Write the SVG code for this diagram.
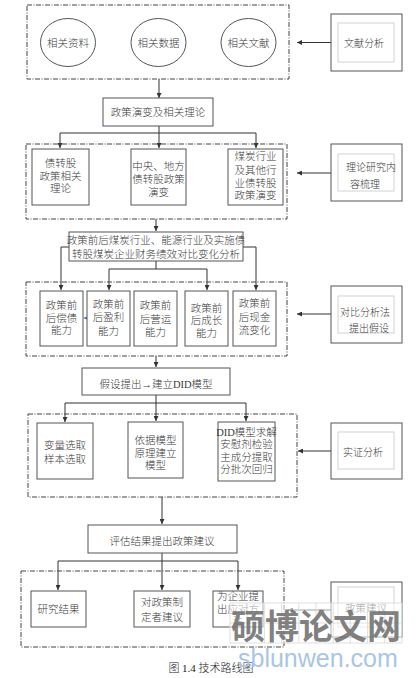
<svg xmlns="http://www.w3.org/2000/svg" width="419" height="678" viewBox="0 0 419 678">
<defs>
<marker id="ah" markerWidth="5" markerHeight="5" refX="5" refY="2.5" orient="auto" markerUnits="userSpaceOnUse"><path d="M0,0 L5,2.5 L0,5 z" fill="#333"/></marker>
<marker id="ahb" markerWidth="4" markerHeight="4" refX="4" refY="2" orient="auto" markerUnits="userSpaceOnUse"><path d="M0,0 L4,2 L0,4 z" fill="#4a6fb5"/></marker>
<style>
.box{fill:#fff;stroke:#555;stroke-width:1}
.grp{fill:none;stroke:#444;stroke-width:1;stroke-dasharray:5 1.5 1 1.5}
.ln{fill:none;stroke:#333;stroke-width:1}
.arr{marker-end:url(#ah)}
.inner{fill:none;stroke:#d2d2d2;stroke-width:1}
.t{font-family:"Liberation Serif","Noto Sans CJK SC",serif;font-size:10.5px;font-weight:300;fill:#3a3a3a;text-anchor:middle}
.ts{font-family:"Liberation Serif","Noto Sans CJK SC",serif;font-size:10px;font-weight:300;fill:#3a3a3a}
</style>
</defs>
<rect width="419" height="678" fill="#fff"/>

<g id="connectors">
<path class="ln arr" d="M331,42.5 H297"/>
<path class="ln arr" d="M159,79 V98"/>
<path class="ln arr" d="M159,126 V148"/>
<path class="ln arr" d="M159,133 H60 V148"/>
<path class="ln arr" d="M159,133 H256 V148"/>
<path class="ln arr" d="M331,173 H297"/>
<path class="ln arr" d="M156,219 V231"/>
<path class="ln arr" d="M69,247 H61 V290"/>
<path class="ln arr" d="M243,247 H256 V290"/>
<path class="ln arr" d="M156,261 V269 H109 V290"/>
<path class="ln arr" d="M156,269 H207 V290"/>
<path d="M87,318 H84" stroke="#4a6fb5" stroke-width="1" marker-end="url(#ahb)"/>
<path class="ln arr" d="M331,314 H297"/>
<path class="ln arr" d="M156,356 V367"/>
<path class="ln arr" d="M156,395 V421"/>
<path class="ln arr" d="M156,403 H65 V422"/>
<path class="ln arr" d="M156,403 H246 V421"/>
<path class="ln arr" d="M331,451 H298"/>
<path class="ln arr" d="M162,497 V524"/>
<path class="ln arr" d="M162,553 V590"/>
<path class="ln arr" d="M162,561 H58 V590"/>
<path class="ln arr" d="M162,561 H238 V590"/>
<path class="ln arr" d="M331,610 H288"/>
</g>

<g id="group1">
<rect class="grp" x="27" y="5" width="262" height="74"/>
<g id="n_ziliao"><ellipse cx="68" cy="42.5" rx="27.5" ry="24" fill="#fff" stroke="#555"/><text class="t" x="68" y="46.5" font-size="10">相关资料</text></g>
<g id="n_shuju"><ellipse cx="158.5" cy="42.5" rx="27.5" ry="24" fill="#fff" stroke="#555"/><text class="t" x="158.5" y="46.5" font-size="10">相关数据</text></g>
<g id="n_wenxian"><ellipse cx="248.5" cy="42.5" rx="27.5" ry="24" fill="#fff" stroke="#555"/><text class="t" x="248.5" y="46.5" font-size="10">相关文献</text></g>
</g>
<g id="r_wenxianfenxi">
<rect class="box" x="331" y="14" width="71" height="57"/>
<rect class="inner" x="338" y="23" width="56" height="39"/>
<text class="ts" x="344" y="47">文献分析</text>
</g>

<g id="n_zhengce"><rect class="box" x="103" y="98" width="110" height="28"/><text class="t" x="158" y="116" font-size="10">政策演变及相关理论</text></g>

<g id="group2">
<rect class="grp" x="26" y="144" width="261" height="75"/>
<g id="n_lilun"><rect class="box" x="32" y="149" width="57" height="56"/>
<text class="t" x="60.5" y="167">债转股</text><text class="t" x="60.5" y="180">政策相关</text><text class="t" x="60.5" y="192">理论</text></g>
<g id="n_zhongyang"><rect class="box" x="131" y="149" width="55" height="56"/>
<text class="t" x="158.5" y="170">中央、地方</text><text class="t" x="158.5" y="183">债转股政策</text><text class="t" x="158.5" y="196">演变</text></g>
<g id="n_meitan"><rect class="box" x="228" y="149" width="55" height="56"/>
<text class="t" x="255.5" y="160">煤炭行业</text><text class="t" x="255.5" y="174">及其他行</text><text class="t" x="255.5" y="187">业债转股</text><text class="t" x="255.5" y="199">政策演变</text></g>
</g>
<g id="r_lilunyanjiu">
<rect class="box" x="331" y="144" width="71" height="57"/>
<rect class="inner" x="338" y="154" width="56" height="37"/>
<text class="ts" x="346" y="171" font-size="9.5">理论研究内</text>
<text class="ts" x="350" y="188" font-size="12">容梳理</text>
</g>

<g id="n_duibi"><rect class="box" x="69" y="232" width="174" height="29"/>
<text class="t" x="156" y="244" font-size="9.3">政策前后煤炭行业、能源行业及实施债</text>
<text class="t" x="156" y="258" font-size="9.3">转股煤炭企业财务绩效对比变化分析</text></g>

<g id="group3">
<rect class="grp" x="26" y="282" width="261" height="74"/>
<g id="n_changzhai"><rect class="box" x="40" y="291" width="43" height="55"/>
<text class="t" x="61.5" y="309">政策前</text><text class="t" x="61.5" y="322">后偿债</text><text class="t" x="61.5" y="334">能力</text></g>
<g id="n_yingli"><rect class="box" x="87" y="291" width="43" height="55"/>
<text class="t" x="108.5" y="308">政策前</text><text class="t" x="108.5" y="321">后盈利</text><text class="t" x="108.5" y="335">能力</text></g>
<g id="n_yingyun"><rect class="box" x="134" y="291" width="43" height="55"/>
<text class="t" x="155.5" y="309">政策前</text><text class="t" x="155.5" y="323">后营运</text><text class="t" x="155.5" y="336">能力</text></g>
<g id="n_chengzhang"><rect class="box" x="185" y="291" width="43" height="55"/>
<text class="t" x="206.5" y="312">政策前</text><text class="t" x="206.5" y="324">后成长</text><text class="t" x="206.5" y="337">能力</text></g>
<g id="n_xianjin"><rect class="box" x="233" y="291" width="43" height="55"/>
<text class="t" x="254.5" y="307">政策前</text><text class="t" x="254.5" y="321">后现金</text><text class="t" x="254.5" y="334">流变化</text></g>
</g>
<g id="r_duibifenxi">
<rect class="box" x="331" y="286" width="71" height="57"/>
<rect class="inner" x="338" y="296" width="56" height="37"/>
<text class="ts" x="340" y="316">对比分析法</text>
<text class="ts" x="349" y="332">提出假设</text>
</g>

<g id="n_did"><rect class="box" x="82" y="368" width="148" height="27"/>
<text class="t" x="156" y="388" font-size="10">假设提出→建立DID模型</text></g>

<g id="group4">
<rect class="grp" x="28" y="414" width="269" height="83"/>
<g id="n_bianliang"><rect class="box" x="37" y="423" width="56" height="56"/>
<text class="t" x="65" y="449">变量选取</text><text class="t" x="65" y="463">样本选取</text></g>
<g id="n_yiju"><rect class="box" x="128" y="422" width="55" height="56"/>
<text class="t" x="155.5" y="444">依据模型</text><text class="t" x="155.5" y="457">原理建立</text><text class="t" x="155.5" y="469">模型</text></g>
<g id="n_qiujie"><rect class="box" x="218" y="422" width="57" height="59"/>
<text class="t" x="246.5" y="436" font-size="9">DID模型求解</text><text class="t" x="246.5" y="448" font-size="10">安慰剂检验</text><text class="t" x="246.5" y="461" font-size="10">主成分提取</text><text class="t" x="246.5" y="473" font-size="10">分批次回归</text></g>
</g>
<g id="r_shizheng">
<rect class="box" x="331" y="423" width="71" height="56"/>
<rect class="inner" x="338" y="432" width="56" height="37"/>
<text class="ts" x="343" y="456" font-size="11.5">实证分析</text>
</g>

<g id="n_pinggu"><rect class="box" x="88" y="525" width="149" height="28"/>
<text class="t" x="162" y="545" font-size="10">评估结果提出政策建议</text></g>

<g id="group5">
<rect class="grp" x="21" y="571" width="263" height="76"/>
<g id="n_jieguo"><rect class="box" x="31" y="591" width="55" height="36"/>
<text class="t" x="58.5" y="613">研究结果</text></g>
<g id="n_jianyi"><rect class="box" x="134" y="591" width="56" height="36"/>
<text class="t" x="162" y="606">对政策制</text><text class="t" x="162" y="621">定者建议</text></g>
<g id="n_qiye"><rect class="box" x="213" y="591" width="50" height="36"/>
<text class="t" x="238" y="600">为企业提</text><text class="t" x="238" y="613">出应对方</text><text class="t" x="238" y="625">法</text></g>
</g>
<g id="r_zhengcejianyi">
<rect class="box" x="331" y="582" width="71" height="55"/>
<rect class="inner" x="338" y="587" width="56" height="40"/>
<text class="t" x="366" y="612" font-size="10">政策建议</text>
</g>

<text x="211" y="672" font-family="Liberation Serif,Noto Sans CJK SC,serif" font-size="11" font-weight="300" fill="#222" text-anchor="middle">图 1.4  技术路线图</text>

<g id="watermark">
<rect x="230" y="603" width="172" height="40" fill="#fff" fill-opacity="0.55"/>
<g stroke="#d8d8d8" stroke-width="0.8" fill="none">
<rect x="230" y="603" width="172" height="40"/>
<path d="M264.4,603 V643 M298.8,603 V643 M333.2,603 V643 M367.6,603 V643 M230,623 H402 M247.2,603 V643 M281.6,603 V643 M316,603 V643 M350.4,603 V643 M384.8,603 V643"/>
</g>
<text x="231" y="639" font-family="Noto Sans CJK SC,sans-serif" font-size="34" font-weight="bold" fill="#6a6a6a" fill-opacity="0.85">硕博论文网</text>
<text x="238" y="667" font-family="Liberation Sans,Arial,sans-serif" font-size="25" fill="#a9c6e6">sblunwen.com</text>
</g>
</svg>
